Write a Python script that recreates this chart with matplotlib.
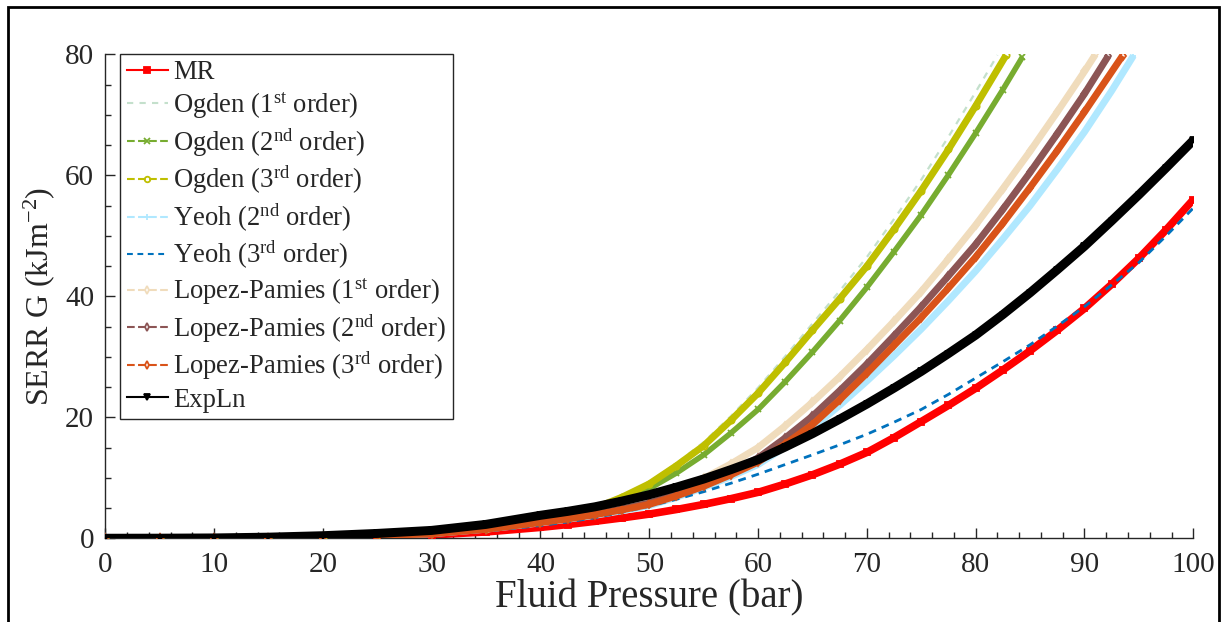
import numpy as np
import matplotlib
matplotlib.use("Agg")
import matplotlib.pyplot as plt
from matplotlib.patches import Rectangle
from matplotlib.ticker import MultipleLocator

# fluid pressure (bar) and SERR G (kJ/m^2)
p_full = [0, 5, 10, 15, 20, 25, 30, 35, 40, 42.5, 45, 47.5, 50, 52.5, 55, 57.5, 60, 62.5,
          65, 67.5, 70, 72.5, 75, 77.5, 80, 82.5, 85, 87.5, 90, 92.5, 95, 97.5, 100]
g_mr = [0, 0.0, 0.02, 0.05, 0.14, 0.3, 0.55, 1.05, 1.8, 2.27, 2.8, 3.37, 4.0, 4.76, 5.6,
        6.55, 7.6, 8.98, 10.5, 12.25, 14.2, 16.65, 19.3, 21.98, 24.8, 27.83, 31.0, 34.4,
        38.0, 42.0, 46.3, 51.0, 56.0]
g_yeoh3 = [0, 0.0, 0.02, 0.06, 0.16, 0.35, 0.65, 1.2, 2.1, 2.7, 3.4, 4.3, 5.3, 6.45, 7.7,
           9.1, 10.6, 12.2, 13.8, 15.45, 17.2, 19.2, 21.3, 23.8, 26.5, 29.2, 32.0, 35.1,
           38.3, 41.9, 45.6, 50.0, 54.6]
g_explin = [0, 0.01, 0.05, 0.18, 0.42, 0.8, 1.3, 2.3, 3.8, 4.45, 5.2, 6.15, 7.2, 8.45, 9.8,
            11.35, 13.0, 15.1, 17.3, 19.7, 22.2, 24.85, 27.6, 30.55, 33.6, 37.0, 40.6,
            44.4, 48.3, 52.5, 56.8, 61.25, 65.8]

p_ogden1 = [0, 5, 10, 15, 20, 25, 30, 35, 40, 42.5, 45, 47.5, 50, 52.5, 55, 57.5, 60, 62.5,
            65, 67.5, 70, 72.5, 75, 77.5, 80, 82.0]
g_ogden1 = [0, 0.0, 0.03, 0.1, 0.26, 0.52, 0.95, 1.7, 2.9, 3.9, 5.2, 7.1, 9.3, 12.4, 15.9,
            20.2, 24.9, 30.1, 35.5, 40.9, 46.5, 52.8, 59.3, 66.4, 73.8, 79.9]
p_ogden2 = [0, 5, 10, 15, 20, 25, 30, 35, 40, 42.5, 45, 47.5, 50, 52.5, 55, 57.5, 60, 62.5,
            65, 67.5, 70, 72.5, 75, 77.5, 80, 82.5, 84.3]
g_ogden2 = [0, 0.0, 0.03, 0.1, 0.25, 0.48, 0.85, 1.5, 2.7, 3.6, 4.7, 6.3, 8.2, 10.8, 13.8,
            17.4, 21.3, 25.9, 30.8, 36.0, 41.5, 47.4, 53.5, 60.1, 67.0, 74.2, 79.6]
p_ogden3 = [0, 5, 10, 15, 20, 25, 30, 35, 40, 42.5, 45, 47.5, 50, 52.5, 55, 57.5, 60, 62.5,
            65, 67.5, 70, 72.5, 75, 77.5, 80, 82.8]
g_ogden3 = [0, 0.0, 0.03, 0.1, 0.25, 0.5, 0.9, 1.6, 2.8, 3.8, 5.0, 6.8, 9.0, 12.0, 15.3,
            19.5, 24.0, 29.1, 34.4, 39.6, 45.0, 51.1, 57.5, 64.3, 71.5, 79.9]
p_yeoh2 = [0, 5, 10, 15, 20, 25, 30, 35, 40, 42.5, 45, 47.5, 50, 52.5, 55, 57.5, 60, 62.5,
           65, 67.5, 70, 72.5, 75, 77.5, 80, 82.5, 85, 87.5, 90, 92.5, 94.5]
g_yeoh2 = [0, 0.0, 0.03, 0.1, 0.25, 0.45, 0.75, 1.5, 2.55, 3.15, 3.8, 4.55, 5.4, 6.8, 8.4,
           10.2, 12.2, 15.1, 18.2, 22.0, 26.0, 30.2, 34.6, 39.3, 44.2, 49.5, 55.0, 61.0,
           67.2, 74.0, 79.8]
p_lp1 = [0, 5, 10, 15, 20, 25, 30, 35, 40, 42.5, 45, 47.5, 50, 52.5, 55, 57.5, 60, 62.5,
         65, 67.5, 70, 72.5, 75, 77.5, 80, 82.5, 85, 87.5, 90, 91.0]
g_lp1 = [0, 0.0, 0.03, 0.1, 0.27, 0.5, 0.8, 1.6, 2.8, 3.45, 4.2, 5.1, 6.1, 7.9, 9.9, 12.3,
         15.0, 18.6, 22.5, 26.7, 31.2, 35.9, 40.8, 46.2, 51.8, 57.8, 64.0, 70.5, 77.2, 80.0]
p_lp2 = [0, 5, 10, 15, 20, 25, 30, 35, 40, 42.5, 45, 47.5, 50, 52.5, 55, 57.5, 60, 62.5,
         65, 67.5, 70, 72.5, 75, 77.5, 80, 82.5, 85, 87.5, 90, 92.2]
g_lp2 = [0, 0.0, 0.03, 0.1, 0.26, 0.47, 0.78, 1.55, 2.7, 3.3, 4.0, 4.85, 5.8, 7.3, 8.9,
         11.0, 13.3, 16.6, 20.2, 24.4, 28.8, 33.5, 38.3, 43.4, 48.6, 54.4, 60.5, 66.9,
         73.5, 79.8]
p_lp3 = [0, 5, 10, 15, 20, 25, 30, 35, 40, 42.5, 45, 47.5, 50, 52.5, 55, 57.5, 60, 62.5,
         65, 67.5, 70, 72.5, 75, 77.5, 80, 82.5, 85, 87.5, 90, 93.5]
g_lp3 = [0, 0.0, 0.03, 0.1, 0.25, 0.45, 0.75, 1.5, 2.6, 3.2, 3.9, 4.7, 5.6, 7.0, 8.6, 10.5,
         12.6, 15.6, 18.8, 22.9, 27.3, 31.9, 36.5, 41.4, 46.5, 52.1, 58.0, 64.1, 70.5, 79.8]

plt.rcParams.update(
    {
        "font.family": "serif",
        "font.serif": ["Liberation Serif", "DejaVu Serif"],
        "mathtext.fontset": "custom",
        "mathtext.rm": "Liberation Serif",
        "mathtext.it": "Liberation Serif:italic",
        "text.color": "#262626",
        "axes.labelcolor": "#262626",
        "xtick.color": "#262626",
        "ytick.color": "#262626",
    }
)

fig = plt.figure(figsize=(12.23, 6.22), dpi=100)
ax = fig.add_axes([0.0861, 0.1346, 0.8896, 0.7778])

# (label, pressure, G, colour, linestyle, marker, band width)
series = [
    ("MR", p_full, g_mr, "#ff0000", "-", "s", 5.5),
    ("Ogden (1$^{\\mathrm{st}}$ order)", p_ogden1, g_ogden1, "#c4e0cc", "--", None, 0),
    ("Ogden (2$^{\\mathrm{nd}}$ order)", p_ogden2, g_ogden2, "#77ac30", "--", "x", 4.0),
    ("Ogden (3$^{\\mathrm{rd}}$ order)", p_ogden3, g_ogden3, "#bfbf00", "--", "o", 5.0),
    ("Yeoh (2$^{\\mathrm{nd}}$ order)", p_yeoh2, g_yeoh2, "#b0e8ff", "--", "+", 5.0),
    ("Yeoh (3$^{\\mathrm{rd}}$ order)", p_full, g_yeoh3, "#0072bd", "--", None, 0),
    ("Lopez-Pamies (1$^{\\mathrm{st}}$ order)", p_lp1, g_lp1, "#f0dcbc", "--", "d", 5.0),
    ("Lopez-Pamies (2$^{\\mathrm{nd}}$ order)", p_lp2, g_lp2, "#8c5555", "--", "d", 5.0),
    ("Lopez-Pamies (3$^{\\mathrm{rd}}$ order)", p_lp3, g_lp3, "#d95319", "--", "d", 5.0),
    ("ExpLn", p_full, g_explin, "#000000", "-", "v", 6.5),
]

handles = []
for i, (label, p, g, c, ls, mk, band) in enumerate(series):
    z = 2 + 2 * i
    if band > 0:
        ax.plot(p, g, color=c, lw=band, solid_capstyle="butt",
                solid_joinstyle="round", zorder=z)
    if mk is None:
        if label.startswith("Yeoh"):
            (h,) = ax.plot(p, g, ls, color=c, lw=2.0, dashes=(2.8, 2.2), zorder=z + 1,
                           label=label)
        else:
            (h,) = ax.plot(p, g, ls, color=c, lw=1.6, dashes=(3, 3), zorder=z + 1,
                           label=label)
    else:
        face = c if mk in ("s", "v") else "none"
        (h,) = ax.plot(p, g, ls, color=c, lw=1.5, marker=mk, ms=4.5, mfc=face,
                       mew=1.3, zorder=z + 1, label=label)
    handles.append(h)

ax.set_xlim(0, 100)
ax.set_ylim(0, 80)
ax.xaxis.set_major_locator(MultipleLocator(10))
ax.xaxis.set_minor_locator(MultipleLocator(2))
ax.yaxis.set_major_locator(MultipleLocator(20))
ax.yaxis.set_minor_locator(MultipleLocator(5))
ax.tick_params(which="major", direction="in", length=7, width=1.0, labelsize=21)
ax.tick_params(which="minor", direction="in", length=4, width=1.0)
ax.tick_params(axis="x", pad=10)
ax.tick_params(axis="y", pad=8)
for side in ("top", "right"):
    ax.spines[side].set_visible(False)
for side in ("left", "bottom"):
    ax.spines[side].set_color("#262626")
    ax.spines[side].set_linewidth(1.0)

ax.set_xlabel("Fluid Pressure (bar)", fontsize=28, labelpad=1)
ax.set_ylabel("SERR G (kJm$^{-2}$)", fontsize=23, labelpad=6)

leg = ax.legend(
    handles=handles,
    loc="upper left",
    bbox_to_anchor=(0.0135, 1.002),
    borderaxespad=0,
    fontsize=19.2,
    handlelength=1.55,
    handletextpad=0.2,
    labelspacing=0.2,
    borderpad=0.25,
    fancybox=False,
    framealpha=1,
    edgecolor="#262626",
)
leg.get_frame().set_linewidth(1.0)
for lh in leg.get_lines():
    lh.set_markersize(4)
    lh.set_linewidth(1.5)

# outer figure frame
fig.patches.append(
    Rectangle((8 / 1223, -0.1), 1211 / 1223, 1.1 - 7 / 622, transform=fig.transFigure,
              fill=False, edgecolor="black", linewidth=2.0, clip_on=False)
)

fig.savefig("out.png", dpi=100)
